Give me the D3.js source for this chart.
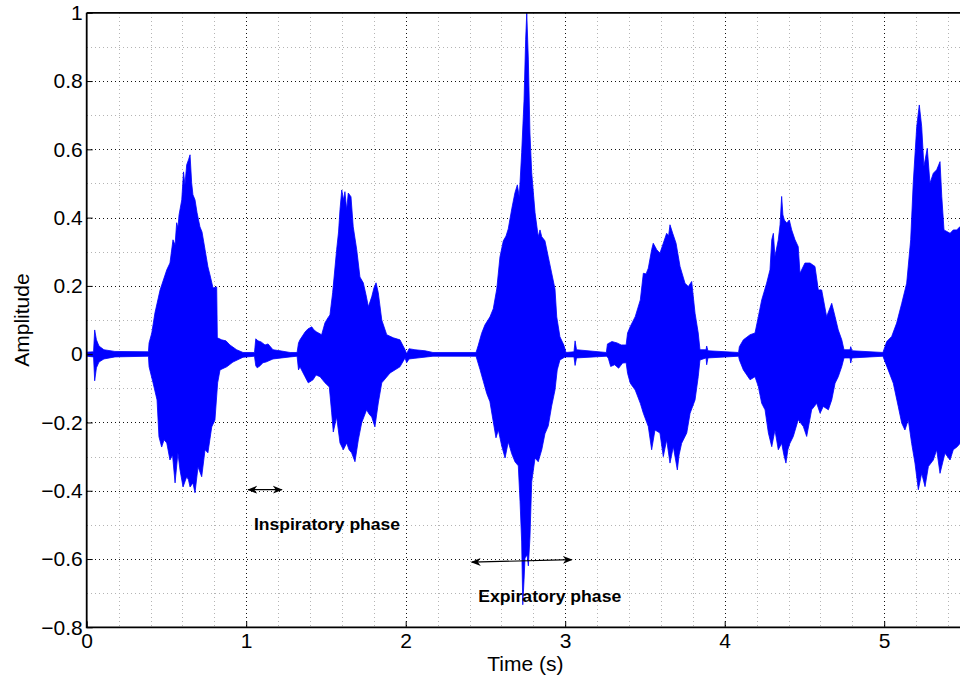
<!DOCTYPE html>
<html>
<head>
<meta charset="utf-8">
<script src="https://cdn.jsdelivr.net/npm/d3@7"></script>
<style>
  html, body { margin: 0; padding: 0; background: #fff; }
  svg { display: block; font-family: "Liberation Sans", Arial, Helvetica, sans-serif; }
</style>
</head>
<body>
<svg id="chart" width="960" height="678"></svg>
<script>
// Tick values of the axes
const xTickValues = [0, 1, 2, 3, 4, 5];
const yTickValues = [-0.8, -0.6, -0.4, -0.2, 0, 0.2, 0.4, 0.6, 0.8, 1];

// Upper envelope of the recorded breath sound: [time (s), amplitude]
const upperEnvelope = [
  [0.002,0.006],[0.043,0.007],[0.050,0.071],[0.061,0.042],[0.077,0.024],[0.108,0.013],[0.177,0.008],
  [0.387,0.007],[0.391,0.033],[0.408,0.062],[0.428,0.121],[0.460,0.188],[0.502,0.247],[0.522,0.267],
  [0.541,0.335],[0.554,0.320],[0.564,0.385],[0.572,0.370],[0.579,0.408],[0.596,0.452],[0.607,0.534],
  [0.616,0.496],[0.627,0.555],[0.638,0.569],[0.648,0.584],[0.658,0.502],[0.666,0.467],[0.679,0.452],
  [0.692,0.414],[0.710,0.373],[0.723,0.358],[0.742,0.306],[0.760,0.256],[0.773,0.232],[0.792,0.194],
  [0.815,0.197],[0.819,0.048],[0.846,0.042],[0.873,0.039],[0.898,0.027],[0.940,0.013],[0.980,0.005],
  [1.052,0.005],[1.060,0.045],[1.074,0.039],[1.093,0.036],[1.118,0.027],[1.137,0.030],[1.168,0.013],
  [1.212,0.010],[1.275,0.005],[1.319,0.005],[1.328,0.033],[1.337,0.042],[1.369,0.065],[1.387,0.074],
  [1.411,0.080],[1.425,0.071],[1.442,0.065],[1.473,0.057],[1.494,0.092],[1.513,0.107],[1.525,0.115],
  [1.542,0.180],[1.567,0.306],[1.579,0.358],[1.588,0.423],[1.599,0.481],[1.610,0.452],[1.619,0.476],
  [1.630,0.423],[1.640,0.472],[1.657,0.461],[1.671,0.373],[1.693,0.306],[1.713,0.226],[1.734,0.209],
  [1.751,0.174],[1.766,0.139],[1.787,0.168],[1.801,0.194],[1.814,0.209],[1.828,0.180],[1.850,0.100],
  [1.881,0.057],[1.922,0.048],[1.964,0.042],[1.996,0.013],[2.006,0.001],[2.021,0.016],[2.058,0.013],
  [2.121,0.010],[2.171,0.005],[2.441,0.005],[2.455,0.026],[2.476,0.061],[2.497,0.086],[2.528,0.109],
  [2.549,0.133],[2.571,0.191],[2.591,0.285],[2.612,0.332],[2.629,0.346],[2.643,0.367],[2.665,0.426],
  [2.685,0.473],[2.700,0.496],[2.712,0.461],[2.727,0.590],[2.742,0.745],[2.752,0.921],[2.759,1.000],
  [2.769,0.862],[2.779,0.648],[2.790,0.531],[2.811,0.414],[2.831,0.344],[2.842,0.364],[2.853,0.344],
  [2.873,0.332],[2.894,0.285],[2.915,0.238],[2.936,0.191],[2.947,0.109],[2.967,0.051],[2.992,0.026],
  [3.005,0.005],[3.055,0.007],[3.062,0.039],[3.071,0.013],[3.258,0.005],[3.265,0.030],[3.293,0.037],
  [3.325,0.033],[3.351,0.027],[3.382,0.027],[3.391,0.062],[3.408,0.081],[3.439,0.110],[3.471,0.159],
  [3.490,0.237],[3.507,0.235],[3.521,0.252],[3.542,0.306],[3.552,0.325],[3.574,0.306],[3.594,0.296],
  [3.615,0.325],[3.636,0.354],[3.648,0.346],[3.657,0.379],[3.674,0.354],[3.695,0.325],[3.720,0.257],
  [3.751,0.208],[3.772,0.198],[3.793,0.213],[3.814,0.120],[3.834,0.062],[3.845,0.013],[3.883,0.013],
  [3.887,0.024],[3.895,0.010],[4.087,0.005],[4.092,0.022],[4.117,0.042],[4.159,0.057],[4.190,0.062],
  [4.211,0.110],[4.232,0.159],[4.263,0.208],[4.284,0.247],[4.295,0.335],[4.305,0.354],[4.315,0.286],
  [4.336,0.335],[4.347,0.379],[4.357,0.462],[4.365,0.408],[4.374,0.393],[4.389,0.384],[4.405,0.393],
  [4.420,0.364],[4.441,0.335],[4.461,0.315],[4.472,0.237],[4.503,0.267],[4.535,0.267],[4.566,0.257],
  [4.587,0.188],[4.608,0.188],[4.639,0.110],[4.671,0.149],[4.692,0.110],[4.712,0.071],[4.734,0.042],
  [4.748,0.013],[4.786,0.013],[4.790,0.022],[4.798,0.010],[4.992,0.005],[5.016,0.037],[5.047,0.052],
  [5.078,0.091],[5.110,0.149],[5.141,0.208],[5.166,0.335],[5.182,0.501],[5.204,0.667],[5.220,0.730],
  [5.235,0.667],[5.249,0.550],[5.270,0.603],[5.287,0.501],[5.308,0.530],[5.329,0.540],[5.350,0.564],
  [5.361,0.462],[5.375,0.364],[5.413,0.354],[5.433,0.364],[5.455,0.364],[5.476,0.374],[5.520,0.370]
];

// Lower envelope of the recorded breath sound: [time (s), amplitude]
const lowerEnvelope = [
  [0.002,-0.006],[0.043,-0.008],[0.050,-0.078],[0.061,-0.040],[0.077,-0.023],[0.108,-0.014],[0.177,-0.008],
  [0.387,-0.006],[0.391,-0.037],[0.416,-0.084],[0.441,-0.134],[0.453,-0.242],[0.470,-0.272],[0.485,-0.251],
  [0.502,-0.260],[0.522,-0.310],[0.538,-0.295],[0.554,-0.377],[0.572,-0.289],[0.585,-0.339],[0.604,-0.389],
  [0.627,-0.359],[0.638,-0.368],[0.648,-0.389],[0.666,-0.377],[0.679,-0.406],[0.698,-0.330],[0.721,-0.359],
  [0.742,-0.280],[0.760,-0.289],[0.784,-0.213],[0.804,-0.193],[0.821,-0.084],[0.836,-0.046],[0.878,-0.037],
  [0.917,-0.023],[0.980,-0.009],[1.052,-0.006],[1.060,-0.034],[1.069,-0.040],[1.087,-0.034],[1.105,-0.025],
  [1.124,-0.023],[1.168,-0.014],[1.275,-0.008],[1.319,-0.006],[1.328,-0.046],[1.337,-0.037],[1.369,-0.066],
  [1.389,-0.084],[1.419,-0.075],[1.438,-0.061],[1.463,-0.066],[1.494,-0.084],[1.521,-0.096],[1.536,-0.172],
  [1.546,-0.228],[1.567,-0.184],[1.588,-0.260],[1.609,-0.280],[1.630,-0.260],[1.645,-0.280],[1.661,-0.289],
  [1.682,-0.315],[1.703,-0.251],[1.724,-0.201],[1.755,-0.163],[1.770,-0.175],[1.787,-0.184],[1.807,-0.213],
  [1.828,-0.143],[1.850,-0.084],[1.902,-0.055],[1.964,-0.037],[1.996,-0.011],[2.006,-0.025],[2.021,-0.014],
  [2.058,-0.012],[2.171,-0.006],[2.441,-0.006],[2.466,-0.045],[2.487,-0.080],[2.508,-0.115],[2.528,-0.139],
  [2.549,-0.198],[2.566,-0.245],[2.581,-0.222],[2.602,-0.269],[2.623,-0.304],[2.643,-0.257],[2.665,-0.292],
  [2.685,-0.315],[2.706,-0.327],[2.717,-0.432],[2.727,-0.550],[2.734,-0.734],[2.742,-0.661],[2.748,-0.597],
  [2.761,-0.588],[2.769,-0.620],[2.779,-0.538],[2.790,-0.374],[2.811,-0.304],[2.831,-0.315],[2.853,-0.280],
  [2.873,-0.233],[2.894,-0.210],[2.915,-0.152],[2.936,-0.105],[2.950,-0.046],[2.967,-0.017],[2.999,-0.008],
  [3.055,-0.008],[3.062,-0.033],[3.071,-0.011],[3.258,-0.006],[3.270,-0.011],[3.285,-0.036],[3.310,-0.031],
  [3.335,-0.041],[3.360,-0.026],[3.382,-0.025],[3.391,-0.056],[3.408,-0.085],[3.439,-0.105],[3.471,-0.144],
  [3.490,-0.173],[3.521,-0.212],[3.542,-0.280],[3.563,-0.222],[3.594,-0.231],[3.615,-0.300],[3.636,-0.251],
  [3.657,-0.319],[3.678,-0.271],[3.703,-0.339],[3.714,-0.295],[3.730,-0.261],[3.762,-0.231],[3.783,-0.173],
  [3.814,-0.134],[3.834,-0.066],[3.845,-0.017],[3.883,-0.011],[3.887,-0.031],[3.895,-0.011],[3.971,-0.009],
  [4.087,-0.006],[4.092,-0.017],[4.117,-0.046],[4.159,-0.075],[4.190,-0.066],[4.211,-0.095],[4.232,-0.144],
  [4.253,-0.163],[4.274,-0.231],[4.295,-0.271],[4.315,-0.222],[4.336,-0.280],[4.357,-0.261],[4.371,-0.295],
  [4.384,-0.319],[4.396,-0.280],[4.409,-0.261],[4.430,-0.241],[4.461,-0.192],[4.493,-0.212],[4.514,-0.241],
  [4.545,-0.163],[4.577,-0.144],[4.598,-0.173],[4.618,-0.153],[4.650,-0.163],[4.671,-0.134],[4.692,-0.085],
  [4.712,-0.066],[4.734,-0.036],[4.748,-0.011],[4.786,-0.011],[4.790,-0.026],[4.798,-0.011],[4.992,-0.006],
  [5.025,-0.046],[5.057,-0.085],[5.088,-0.153],[5.110,-0.202],[5.130,-0.222],[5.151,-0.192],[5.172,-0.261],
  [5.193,-0.319],[5.214,-0.397],[5.235,-0.349],[5.256,-0.388],[5.277,-0.329],[5.308,-0.310],[5.329,-0.280],
  [5.350,-0.349],[5.381,-0.290],[5.413,-0.310],[5.433,-0.280],[5.458,-0.271],[5.476,-0.261],[5.520,-0.260]
];

// Phase annotations: double-headed arrow ends and label anchor, in data units
const phaseLabels = ["Inspiratory phase", "Expiratory phase"];
const phaseArrows = [
  [[1.013, -0.397], [1.223, -0.397]],
  [[2.414, -0.609], [3.041, -0.602]]
];
const phaseTextAnchors = [[1.049, -0.515], [2.455, -0.726]];

const svg = d3.select("#chart");
const plotLeft = 86.7, plotBottom = 627.3;
const pxPerSecond = 159.5, pxPerUnit = 341.4;

const x = d3.scaleLinear().domain([0, 6]).range([plotLeft, plotLeft + 6 * pxPerSecond]);
const y = d3.scaleLinear().domain([-0.8, 1]).range([plotBottom, plotBottom - 1.8 * pxPerUnit]);
const plotTop = y(1), plotRight = x(6);
const snap = v => Math.round(v) + 0.5;

const defs = svg.append("defs");
defs.append("clipPath").attr("id", "plotClip")
  .append("rect").attr("x", plotLeft).attr("y", plotTop)
  .attr("width", plotRight - plotLeft).attr("height", plotBottom - plotTop);

// Grid lines: light grey minor dots, black major dots
const grid = svg.append("g").attr("shape-rendering", "crispEdges");
const xMinor = d3.range(0.2, 6, 0.2).filter(v => Math.abs(v - Math.round(v)) > 1e-6);
const yMinor = d3.range(-0.7, 1, 0.2);
const vLines = (data, colour) => grid.append("g").selectAll("line").data(data).join("line")
  .attr("x1", d => snap(x(d))).attr("x2", d => snap(x(d))).attr("y1", plotTop).attr("y2", plotBottom)
  .attr("stroke", colour).attr("stroke-width", 1).attr("stroke-dasharray", "1,3");
const hLines = (data, colour) => grid.append("g").selectAll("line").data(data).join("line")
  .attr("x1", plotLeft).attr("x2", plotRight).attr("y1", d => snap(y(d))).attr("y2", d => snap(y(d)))
  .attr("stroke", colour).attr("stroke-width", 1).attr("stroke-dasharray", "1,3");
vLines(xMinor, "#b4b4b4");
hLines(yMinor, "#b4b4b4");
vLines([1, 2, 3, 4, 5, 6], "#111");
hLines(yTickValues.slice(1, -1), "#111");

// Waveform: filled band between the upper and lower envelopes
const outline = upperEnvelope.concat(lowerEnvelope.slice().reverse());
const line = d3.line().x(d => x(d[0])).y(d => y(d[1]));
svg.append("path")
  .attr("clip-path", "url(#plotClip)")
  .attr("d", line(outline) + "Z")
  .attr("fill", "#0000ff").attr("stroke", "#0000ff").attr("stroke-width", 0.8)
  .attr("stroke-linejoin", "miter");

// Axes with inward ticks
const fmt = v => (v < 0 ? "\u2212" : "") + d3.format("")(Math.abs(+v.toFixed(1)));
const yAxis = d3.axisLeft(y).tickValues(yTickValues).tickSize(-6).tickPadding(4).tickFormat(fmt);
const xAxis = d3.axisBottom(x).tickValues(xTickValues).tickSize(-6).tickPadding(6).tickFormat(d3.format("d"));

const gy = svg.append("g").attr("transform", `translate(${plotLeft},0)`).call(yAxis);
const gx = svg.append("g").attr("transform", `translate(0,${plotBottom})`).call(xAxis);
[gx, gy].forEach(g => {
  g.select(".domain").remove();
  g.selectAll(".tick line").attr("stroke", "#000").attr("stroke-width", 1);
  g.selectAll(".tick text").attr("fill", "#000").attr("font-size", 21)
    .attr("font-family", "'Liberation Sans', Arial, sans-serif");
});

// Box
svg.append("path")
  .attr("d", `M${plotLeft},${plotTop}H${plotRight}M${plotLeft},${plotTop}V${plotBottom}H${plotRight}`)
  .attr("fill", "none").attr("stroke", "#000").attr("stroke-width", 1.8);

// Axis titles
svg.append("text").attr("x", x(2.75)).attr("y", 671).attr("text-anchor", "middle")
  .attr("font-size", 21).text("Time (s)");
svg.append("text").attr("transform", `translate(29,${y(0.1)}) rotate(-90)`).attr("text-anchor", "middle")
  .attr("font-size", 21).text("Amplitude");

// Phase annotations
defs.append("marker").attr("id", "head").attr("viewBox", "0 0 10 10")
  .attr("refX", 9).attr("refY", 5).attr("markerWidth", 10).attr("markerHeight", 10)
  .attr("markerUnits", "userSpaceOnUse").attr("orient", "auto-start-reverse")
  .append("path").attr("d", "M0,1 L10,5 L0,9 L3,5 Z").attr("fill", "#000");

const ann = svg.append("g");
ann.selectAll("line").data(phaseArrows).join("line")
  .attr("x1", d => x(d[0][0])).attr("y1", d => y(d[0][1]))
  .attr("x2", d => x(d[1][0])).attr("y2", d => y(d[1][1]))
  .attr("stroke", "#000").attr("stroke-width", 1.2)
  .attr("marker-start", "url(#head)").attr("marker-end", "url(#head)");
ann.selectAll("text").data(phaseLabels).join("text")
  .attr("x", (d, i) => x(phaseTextAnchors[i][0]))
  .attr("y", (d, i) => y(phaseTextAnchors[i][1]))
  .attr("font-size", 16).attr("font-weight", "bold")
  .attr("textLength", (d, i) => i === 0 ? 146 : 143).attr("lengthAdjust", "spacingAndGlyphs")
  .text(d => d);
</script>
</body>
</html>
